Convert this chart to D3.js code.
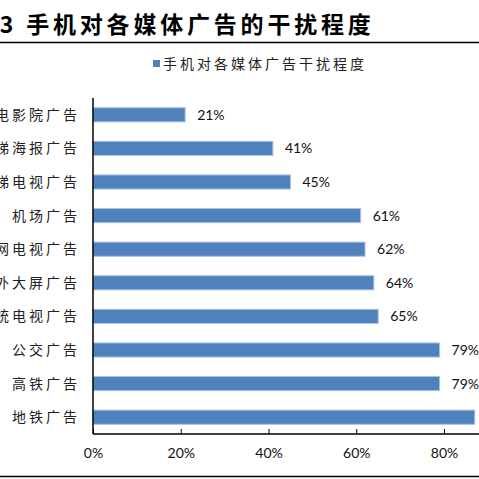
<!DOCTYPE html>
<html>
<head>
<meta charset="utf-8">
<script src="https://cdn.jsdelivr.net/npm/d3@7"></script>
<style>
  body { margin: 0; background: #fff; }
  svg { display: block; }
</style>
</head>
<body>
<div id="chart"></div>
<script>
var categories = ["电影院广告", "电梯海报广告", "电梯电视广告", "机场广告", "互联网电视广告",
                  "户外大屏广告", "传统电视广告", "公交广告", "高铁广告", "地铁广告"];
var values = [21, 41, 45, 61, 62, 64, 65, 79, 79, 87];
var ticks = [0, 20, 40, 60, 80];
var title = "图3 手机对各媒体广告的干扰程度";
var seriesName = "手机对各媒体广告干扰程度";

var width = 479, height = 479;
var cjk = "'Noto Sans CJK SC', sans-serif";
var num = "'Lato', 'DejaVu Sans', sans-serif";
var blue = "#4f81bd";

var svg = d3.select("#chart").append("svg")
    .attr("width", width).attr("height", height);

// title and rules
svg.append("text")
    .attr("x", -27).attr("y", 33)
    .attr("font-family", cjk).attr("font-size", 23).attr("font-weight", "bold")
    .attr("letter-spacing", 3.8)
    .text(title);
svg.append("line").attr("x1", 0).attr("x2", width).attr("y1", 42.5).attr("y2", 42.5)
    .attr("stroke", "#000").attr("stroke-width", 1.5);
svg.append("line").attr("x1", 0).attr("x2", width).attr("y1", 476.5).attr("y2", 476.5)
    .attr("stroke", "#000").attr("stroke-width", 1.5);

// legend
svg.append("rect").attr("x", 153).attr("y", 60).attr("width", 7).attr("height", 7).attr("fill", blue);
svg.append("text")
    .attr("x", 163).attr("y", 69)
    .attr("font-family", cjk).attr("font-size", 14).attr("letter-spacing", 3)
    .attr("fill", "#222")
    .text(seriesName);

var x = d3.scaleLinear().domain([0, 80]).range([93, 444]);
var y = d3.scaleBand().domain(categories).range([98, 434]).paddingInner(0.58).paddingOuter(0.29);

// bars
svg.selectAll("rect.bar").data(values).enter().append("rect")
    .attr("class", "bar")
    .attr("x", x(0))
    .attr("y", function(d, i){ return y(categories[i]); })
    .attr("width", function(d){ return x(d) - x(0); })
    .attr("height", y.bandwidth())
    .attr("fill", blue)
    .attr("stroke", "#a8c3e4").attr("stroke-width", 1);

// value labels
svg.selectAll("text.val").data(values).enter().append("text")
    .attr("class", "val")
    .attr("x", function(d){ return x(d) + 12; })
    .attr("y", function(d, i){ return y(categories[i]) + y.bandwidth()/2; })
    .attr("dy", "0.36em")
    .attr("font-family", num).attr("font-size", 14)
    .attr("fill", "#111")
    .text(function(d){ return d + "%"; });

// category labels
svg.selectAll("text.cat").data(categories).enter().append("text")
    .attr("class", "cat")
    .attr("x", 80)
    .attr("y", function(d){ return y(d) + y.bandwidth()/2; })
    .attr("dy", "0.36em")
    .attr("text-anchor", "end")
    .attr("font-family", cjk).attr("font-size", 14).attr("letter-spacing", 3)
    .attr("fill", "#222")
    .text(function(d){ return d; });

// axes
var xAxis = d3.axisBottom(x).tickValues(ticks).tickSize(-5).tickPadding(14)
    .tickFormat(function(d){ return d + "%"; });
var gx = svg.append("g").attr("transform", "translate(0,434)").call(xAxis);
gx.select(".domain").remove();
gx.append("line").attr("x1", x(0)).attr("x2", width).attr("stroke", "#000").attr("stroke-width", 1.5);
gx.selectAll(".tick line").attr("stroke", "#000");
gx.selectAll(".tick text").attr("font-family", num).attr("font-size", 14).attr("fill", "#111");

svg.append("line").attr("x1", x(0)).attr("x2", x(0)).attr("y1", 98).attr("y2", 434)
    .attr("stroke", "#000").attr("stroke-width", 1.5);
</script>
</body>
</html>
